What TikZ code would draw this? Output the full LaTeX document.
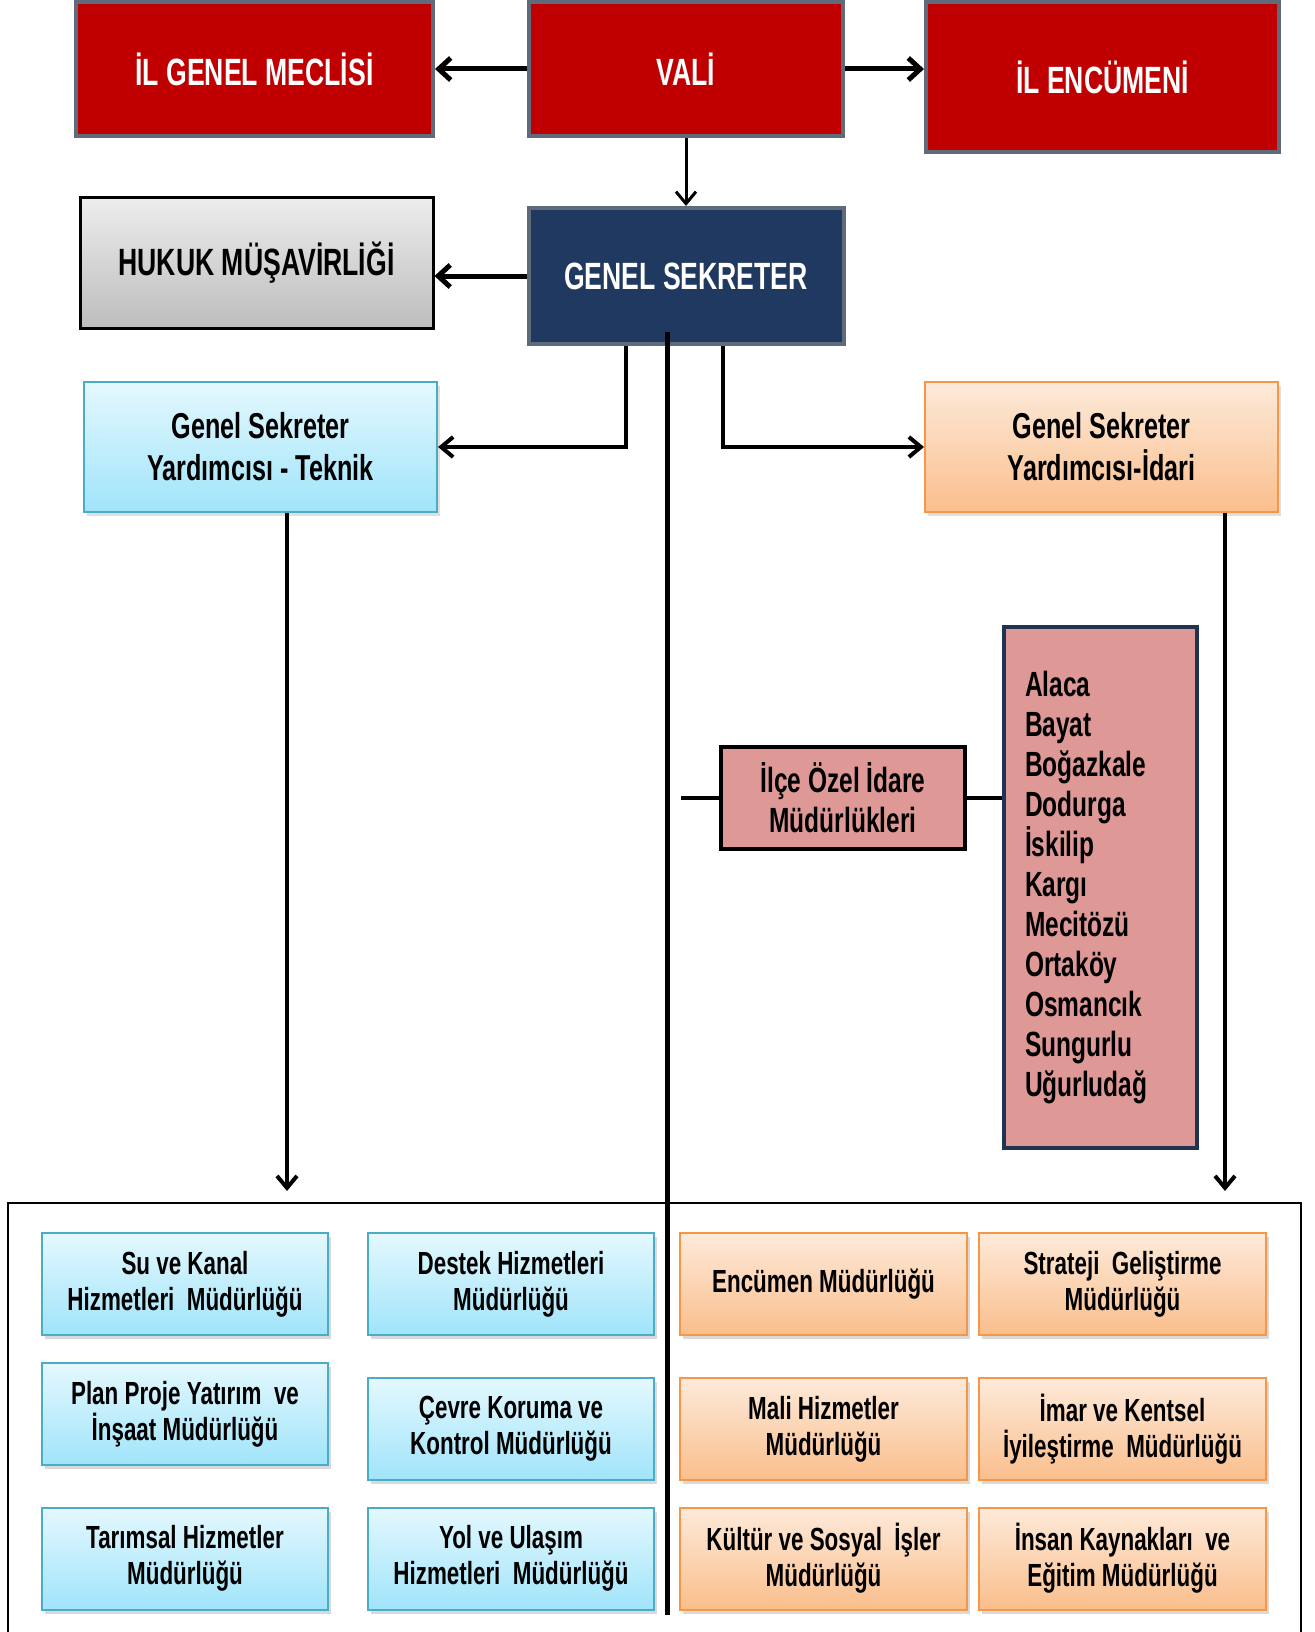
\documentclass[tikz,border=0pt]{standalone}
\usepackage{fontspec}
\setmainfont{Liberation Sans}[FakeStretch=0.7]
\usetikzlibrary{positioning,calc,arrows.meta,shadows}
\definecolor{valired}{RGB}{192,0,0}
\definecolor{framegray}{RGB}{95,107,122}
\definecolor{navy}{RGB}{31,57,96}
\definecolor{pinkfill}{RGB}{222,153,151}
\definecolor{pinkborder}{RGB}{31,52,82}
\definecolor{bluetop}{RGB}{228,248,254}
\definecolor{bluebot}{RGB}{160,228,250}
\definecolor{blueline}{RGB}{75,172,198}
\definecolor{orangetop}{RGB}{253,234,218}
\definecolor{orangebot}{RGB}{250,190,140}
\definecolor{orangeline}{RGB}{247,150,70}
\tikzset{
    every node/.style={font=\bfseries, align=center, inner sep=2pt},
    redbox/.style={draw=framegray, line width=2pt, fill=valired, text=white, minimum height=67pt, font=\bfseries\fontsize{19}{23}\selectfont},
    navybox/.style={draw=framegray, line width=2pt, fill=navy, text=white, minimum width=157.5pt, minimum height=68pt, font=\bfseries\fontsize{19}{23}\selectfont},
    graybox/.style={draw=black, line width=1.5pt, top color=white!93!black, bottom color=white!74!black, minimum width=176.5pt, minimum height=65.5pt, font=\bfseries\fontsize{19}{23}\selectfont},
    bluetitle/.style={draw=blueline, line width=1pt, top color=bluetop, bottom color=bluebot, minimum width=176.5pt, minimum height=65pt, drop shadow={opacity=0.25, shadow xshift=1.5pt, shadow yshift=-2pt}, font=\bfseries\fontsize{18}{21}\selectfont},
    orangetitle/.style={draw=orangeline, line width=1pt, top color=orangetop, bottom color=orangebot, minimum width=176.5pt, minimum height=65pt, drop shadow={opacity=0.25, shadow xshift=1.5pt, shadow yshift=-2pt}, font=\bfseries\fontsize{18}{21}\selectfont},
    bluebox/.style={draw=blueline, line width=1pt, top color=bluetop, bottom color=bluebot, minimum width=143pt, minimum height=51pt, drop shadow={opacity=0.3, shadow xshift=1.5pt, shadow yshift=-2pt}, font=\bfseries\fontsize{16}{18}\selectfont},
    orangebox/.style={draw=orangeline, line width=1pt, top color=orangetop, bottom color=orangebot, minimum width=143.5pt, minimum height=51pt, drop shadow={opacity=0.3, shadow xshift=1.5pt, shadow yshift=-2pt}, font=\bfseries\fontsize{16}{18}\selectfont},
    pinkbox/.style={draw=black, line width=2pt, fill=pinkfill, minimum width=122pt, minimum height=51pt, font=\bfseries\fontsize{17.5}{20}\selectfont},
    listbox/.style={draw=pinkborder, line width=2pt, fill=pinkfill, align=left, text width=75.5pt, inner xsep=10.5pt, minimum height=260.5pt, font=\bfseries\fontsize{17.5}{20}\selectfont},
    arrow/.style={-{Straight Barb[length=6pt,width=11pt]}, line width=2.5pt},
    midarrow/.style={-{Straight Barb[length=6pt,width=10pt]}, line width=2pt},
    thinarrow/.style={-{Straight Barb[length=6pt,width=10pt]}, line width=1.5pt},
    link/.style={line width=2pt},
    spine/.style={line width=2.5pt},
    frame/.style={line width=1pt},
}

\begin{document}
\begin{tikzpicture}[x=0.5pt, y=-0.5pt]
   \useasboundingbox (0,0) rectangle (1315,1632);
% top row: vali in the middle, meclis and encumeni beside it
   \node[redbox, minimum width=157pt] (vali) at (686,69) {VAL\.I};
   \node[redbox, minimum width=178.5pt, left=46pt of vali] (meclis) {\.IL GENEL MECL\.IS\.I};
   \node[redbox, minimum width=176.5pt, minimum height=75pt, right=39.5pt of vali, yshift=-4pt] (encumeni) {\.IL ENC\"UMEN\.I};
% genel sekreter and hukuk
   \node[navybox, below=34pt of vali] (gs) {GENEL SEKRETER};
   \node[graybox, left=46pt of gs, yshift=6.75pt] (hukuk) {HUKUK M\"U\c{S}AV\.IRL\.I\u{G}\.I};
% the two deputies
   \node[bluetitle] (teknik) at (260.5,447) {Genel Sekreter\\Yard\i mc\i s\i\ - Teknik};
   \node[orangetitle] (idari) at (1101.5,447) {Genel Sekreter\\Yard\i mc\i s\i-\.Idari};
% district offices
   \node[pinkbox] (ilce) at (843,798) {\.Il\c{c}e \"Ozel \.Idare\\M\"ud\"url\"ukleri};
   \node[listbox] (ilceler) at (1100.5,887.5) {Alaca\\Bayat\\Bo\u{g}azkale\\Dodurga\\\.Iskilip\\Karg\i\\Mecit\"oz\"u\\Ortak\"oy\\Osmanc\i k\\Sungurlu\\U\u{g}urluda\u{g}};
% directorates, technical side
   \node[bluebox] (su) at (185,1284) {Su ve Kanal\\Hizmetleri\ \ M\"ud\"url\"u\u{g}\"u};
   \node[bluebox] (plan) at (185,1414) {Plan Proje Yat\i r\i m\ \ ve\\\.In\c{s}aat M\"ud\"url\"u\u{g}\"u};
   \node[bluebox] (tarim) at (185,1558.5) {Tar\i msal Hizmetler\\M\"ud\"url\"u\u{g}\"u};
   \node[bluebox] (destek) at (511,1284) {Destek Hizmetleri\\M\"ud\"url\"u\u{g}\"u};
   \node[bluebox] (cevre) at (511,1429) {\c{C}evre Koruma ve\\Kontrol M\"ud\"url\"u\u{g}\"u};
   \node[bluebox] (yol) at (511,1558.5) {Yol ve Ula\c{s}\i m\\Hizmetleri\ \ M\"ud\"url\"u\u{g}\"u};
% directorates, administrative side
   \node[orangebox] (encmd) at (823.5,1284) {Enc\"umen M\"ud\"url\"u\u{g}\"u};
   \node[orangebox] (mali) at (823.5,1429) {Mali Hizmetler\\M\"ud\"url\"u\u{g}\"u};
   \node[orangebox] (kultur) at (823.5,1558.5) {K\"ult\"ur ve Sosyal\ \ \.I\c{s}ler\\M\"ud\"url\"u\u{g}\"u};
   \node[orangebox] (strateji) at (1122.5,1284) {Strateji\ \ Geli\c{s}tirme\\M\"ud\"url\"u\u{g}\"u};
   \node[orangebox] (imar) at (1122.5,1429) {\.Imar ve Kentsel\\\.Iyile\c{s}tirme\ \ M\"ud\"url\"u\u{g}\"u};
   \node[orangebox] (insan) at (1122.5,1558.5) {\.Insan Kaynaklar\i\ \ ve\\E\u{g}itim M\"ud\"url\"u\u{g}\"u};
% free ends
   \coordinate (spineend) at (667,1615);
   \coordinate (ilcestart) at (681,798);
   \coordinate (teknikend) at (287,1191);
   \coordinate (idariend) at (1225,1191);
   \coordinate (frametl) at (8,1203);
   \coordinate (frametr) at (1301,1203);
   \coordinate (framebl) at (8,1632);
   \coordinate (framebr) at (1301,1632);
% connectors
   \draw[arrow] (vali) -- (meclis);
   \draw[arrow] (vali) -- (vali -| encumeni.west);
   \draw[thinarrow] (vali) -- (gs);
   \draw[arrow] (gs) -- (gs -| hukuk.east);
   \draw[midarrow] ([xshift=-30.25pt]gs.south) |- (teknik);
   \draw[midarrow] ([xshift=18.25pt]gs.south) |- (idari);
   \draw[spine] ($(gs.south -| spineend)+(0,-14)$) -- (spineend);
   \draw[link] (ilcestart) -- (ilce);
   \draw[link] (ilce.east) -- (ilce.east -| ilceler.west);
   \draw[midarrow] (teknik.south -| teknikend) -- (teknikend);
   \draw[midarrow] (idari.south -| idariend) -- (idariend);
   \draw[frame] (framebl) -- (frametl) -- (frametr) -- (framebr);
\end{tikzpicture}
\end{document}
